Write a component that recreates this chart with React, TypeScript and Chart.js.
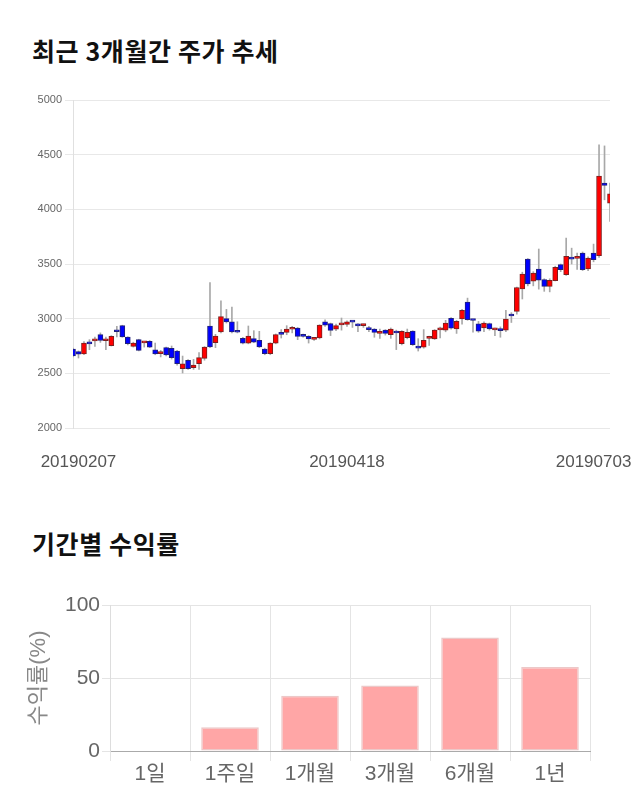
import React, { useEffect, useRef } from "react";
import { Chart, registerables } from "chart.js";

Chart.register(...registerables);

// ---- Candlestick data ----
const open = [
  2722, 2700, 2677, 2777, 2797, 2854, 2798, 2753, 2884, 2936,
  2832, 2747, 2808, 2778, 2793, 2716, 2680, 2735, 2729, 2704,
  2543, 2619, 2552, 2588, 2637, 2933, 2780, 2878, 3000, 2970,
  2880, 2820, 2777, 2817, 2802, 2722, 2680, 2777, 2875, 2875,
  2903, 2915, 2854, 2838, 2810, 2823, 2970, 2955, 2905, 2943,
  2948, 2970, 2938, 2937, 2915, 2905, 2866, 2896, 2854, 2887,
  2771, 2826, 2887, 2735, 2740, 2820, 2815, 2898, 2894, 3003,
  2906, 2997, 3152, 2988, 2952, 2915, 2955, 2898, 2896, 2894,
  3030, 3067, 3272, 3545, 3342, 3454, 3357, 3296, 3348, 3494,
  3403, 3563, 3552, 3600, 3454, 3600, 3576, 4239, 4056,
];
const high = [
  2730, 2705, 2790, 2808, 2832, 2870, 2832, 2845, 2930, 2940,
  2835, 2785, 2812, 2790, 2800, 2777, 2710, 2740, 2750, 2710,
  2658, 2625, 2628, 2689, 2745, 3329, 2857, 3162, 3085, 3107,
  2972, 2830, 2933, 2890, 2884, 2730, 2780, 2860, 2900, 2936,
  2930, 2920, 2860, 2845, 2820, 2945, 2990, 2960, 2950, 3006,
  2980, 2980, 2955, 2950, 2930, 2910, 2905, 2900, 2915, 2895,
  2890, 2905, 2890, 2817, 2900, 2840, 2900, 2924, 2985, 3010,
  2985, 3085, 3188, 2995, 2975, 2970, 2960, 2915, 2925, 3076,
  3055, 3290, 3425, 3550, 3430, 3637, 3365, 3365, 3480, 3500,
  3737, 3645, 3600, 3610, 3565, 3682, 4590, 4580, 4239,
];
const low = [
  2650, 2640, 2670, 2716, 2747, 2783, 2716, 2750, 2832, 2830,
  2760, 2740, 2705, 2740, 2735, 2670, 2650, 2660, 2630, 2575,
  2503, 2535, 2536, 2536, 2620, 2735, 2735, 2870, 2960, 2870,
  2870, 2770, 2770, 2780, 2735, 2670, 2670, 2770, 2823, 2853,
  2870, 2808, 2830, 2777, 2800, 2815, 2930, 2845, 2890, 2895,
  2930, 2920, 2880, 2920, 2880, 2830, 2820, 2850, 2820, 2717,
  2760, 2815, 2755, 2704, 2730, 2755, 2810, 2824, 2880, 2905,
  2865, 2950, 2985, 2876, 2875, 2880, 2895, 2845, 2830, 2880,
  2965, 3040, 3180, 3300, 3300, 3270, 3250, 3245, 3345, 3430,
  3395, 3500, 3450, 3440, 3440, 3520, 3560, 4087, 3889,
];
const close = [
  2660, 2675, 2777, 2770, 2808, 2800, 2802, 2838, 2880, 2832,
  2771, 2777, 2710, 2782, 2740, 2677, 2686, 2668, 2643, 2588,
  2588, 2543, 2576, 2643, 2741, 2741, 2841, 3018, 2970, 2878,
  2876, 2777, 2841, 2786, 2741, 2680, 2777, 2854, 2857, 2905,
  2907, 2838, 2838, 2814, 2814, 2942, 2940, 2893, 2936, 2947,
  2972, 2968, 2934, 2943, 2900, 2875, 2884, 2866, 2905, 2869,
  2884, 2875, 2762, 2730, 2802, 2826, 2896, 2902, 2960, 2912,
  2976, 3076, 2991, 2983, 2885, 2960, 2906, 2902, 2890, 2997,
  3024, 3285, 3408, 3318, 3418, 3351, 3296, 3351, 3470, 3448,
  3570, 3545, 3558, 3448, 3555, 3540, 4305, 4218, 4141,
];
const xTickLabels = ["20190207", "20190418", "20190703"];
const xTickAt = [1, 50, 95];

// ---- Period returns ----
const periods = ["1일", "1주일", "1개월", "3개월", "6개월", "1년"];
const returns = [0, 16.2, 37.8, 44.8, 77.8, 57.5];

const FONT = "'Liberation Sans', Arial, 'Noto Sans CJK KR', sans-serif";

function CandleChart() {
  const ref = useRef<HTMLCanvasElement | null>(null);
  useEffect(() => {
    if (!ref.current) return;
    const up = open.map((o, i) => close[i] >= o);
    const chart = new Chart(ref.current, {
      type: "bar",
      data: {
        labels: open.map((_, i) => String(i)),
        datasets: [
          {
            label: "body",
            data: open.map((o, i) => [o, close[i]]) as any,
            backgroundColor: up.map((u) => (u ? "#ff0000" : "#0000ff")),
            borderColor: up.map((u) => (u ? "#7a2020" : "#20207a")),
            borderWidth: 1,
            borderSkipped: false,
            barThickness: 5,
            minBarLength: 2,
            grouped: false,
            order: 1,
          } as any,
          {
            label: "wick",
            data: low.map((l, i) => [l, high[i]]) as any,
            backgroundColor: "#a8a8a8",
            borderWidth: 0,
            barThickness: 1,
            grouped: false,
            order: 2,
          } as any,
        ],
      },
      options: {
        animation: false,
        responsive: false,
        maintainAspectRatio: false,
        layout: { padding: { left: 0, right: 30, top: 20, bottom: 0 } },
        plugins: { legend: { display: false }, tooltip: { enabled: false } },
        scales: {
          x: {
            offset: false,
            grid: { display: false, drawTicks: false },
            border: { display: false },
            ticks: {
              autoSkip: false,
              maxRotation: 0,
              minRotation: 0,
              padding: 24,
              color: "#555",
              font: { size: 17, family: FONT },
              callback: (_v: any, i: number) => {
                const k = xTickAt.indexOf(i);
                return k >= 0 ? xTickLabels[k] : "";
              },
            },
            afterFit: (s: any) => {
              s.height = 52;
            },
          },
          y: {
            min: 2000,
            max: 5000,
            ticks: {
              stepSize: 500,
              color: "#666",
              font: { size: 11, family: FONT },
              padding: 3,
              callback: (v: any) => String(v),
            },
            grid: { color: "#e8e8e8", tickLength: 8 },
            border: { color: "#e0e0e0" },
            afterFit: (s: any) => {
              s.width = 73;
            },
          },
        },
      } as any,
    });
    return () => chart.destroy();
  }, []);
  return <canvas ref={ref} width={640} height={400} style={{ position: "absolute", left: 0, top: 80, width: 640, height: 400 }} />;
}

function ReturnChart() {
  const ref = useRef<HTMLCanvasElement | null>(null);
  useEffect(() => {
    if (!ref.current) return;
    const chart = new Chart(ref.current, {
      type: "bar",
      data: {
        labels: periods,
        datasets: [
          {
            label: "수익률",
            data: returns,
            backgroundColor: "#ffa6a6",
            borderColor: "#ecc8c8",
            borderWidth: 1.5,
            borderSkipped: false,
          } as any,
        ],
      },
      options: {
        animation: false,
        responsive: false,
        maintainAspectRatio: false,
        layout: { padding: { left: 0, right: 50, top: 25, bottom: 0 } },
        plugins: { legend: { display: false }, tooltip: { enabled: false } },
        scales: {
          x: {
            grid: { color: "#e4e4e4", tickLength: 10 },
            border: { color: "#aaaaaa" },
            ticks: { color: "#666", font: { size: 21, family: FONT }, padding: 1, maxRotation: 0 },
            afterFit: (s: any) => {
              s.height = 59;
            },
          },
          y: {
            min: 0,
            max: 100,
            ticks: { stepSize: 50, color: "#666", font: { size: 21, family: FONT }, padding: 2 },
            grid: { color: "#e4e4e4", tickLength: 8 },
            border: { color: "#dddddd" },
            title: {
              display: true,
              text: "수익률(%)",
              color: "#888",
              font: { size: 22, family: FONT },
              padding: { top: 26, bottom: 0 },
            },
            afterFit: (s: any) => {
              s.width = 110;
            },
          },
        },
      } as any,
    });
    return () => chart.destroy();
  }, []);
  return <canvas ref={ref} width={640} height={230} style={{ position: "absolute", left: 0, top: 580, width: 640, height: 230 }} />;
}

const headStyle: React.CSSProperties = {
  position: "absolute",
  left: 32,
  margin: 0,
  fontFamily: "'Noto Sans CJK KR', sans-serif",
  fontWeight: 700,
  fontSize: 25,
  letterSpacing: "0.6px",
  lineHeight: "30px",
  color: "#111",
  whiteSpace: "nowrap",
};

export default function App() {
  useEffect(() => {
    document.body.style.margin = "0";
  }, []);
  return (
    <div style={{ position: "relative", width: 640, height: 810, background: "#fff", overflow: "hidden" }}>
      <div style={{ ...headStyle, top: 35 }}>최근 3개월간 주가 추세</div>
      <CandleChart />
      <div style={{ ...headStyle, top: 528 }}>기간별 수익률</div>
      <ReturnChart />
    </div>
  );
}
